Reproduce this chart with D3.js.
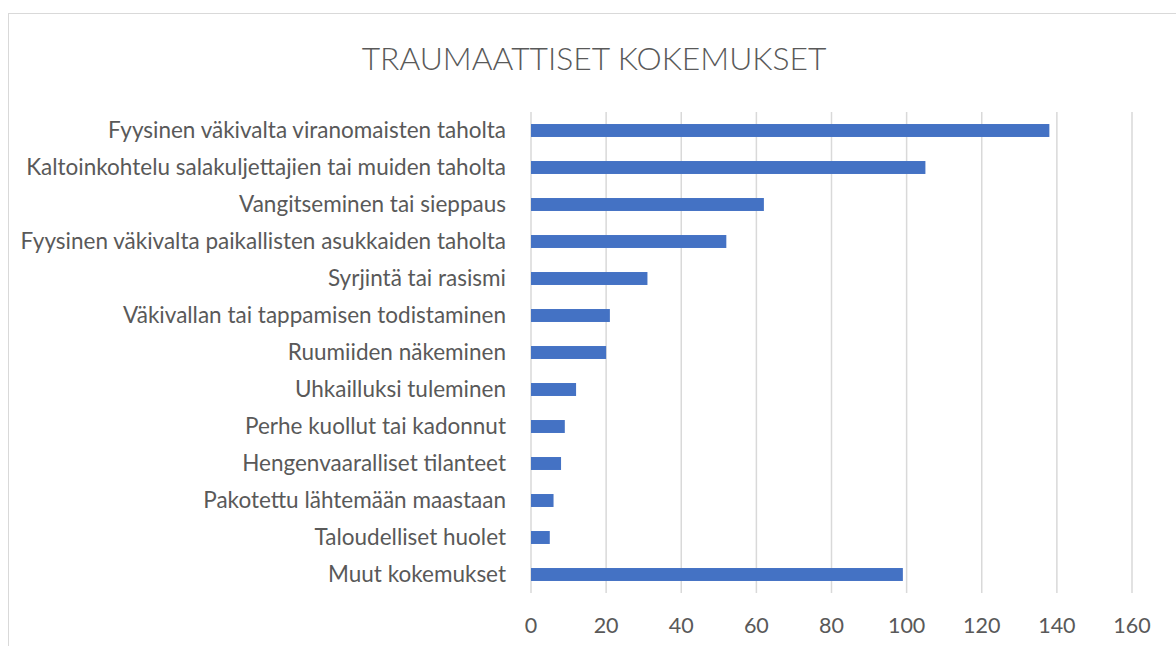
<!DOCTYPE html>
<html>
<head>
<meta charset="utf-8">
<script src="https://cdn.jsdelivr.net/npm/d3@7"></script>
<style>
  body { margin: 0; background: #fff; }
  text { font-family: Lato, "Open Sans", sans-serif; fill: #595959; }
</style>
</head>
<body>
<svg id="chart"></svg>
<script>
const categories = [
  "Fyysinen väkivalta viranomaisten taholta",
  "Kaltoinkohtelu salakuljettajien tai muiden taholta",
  "Vangitseminen tai sieppaus",
  "Fyysinen väkivalta paikallisten asukkaiden taholta",
  "Syrjintä tai rasismi",
  "Väkivallan tai tappamisen todistaminen",
  "Ruumiiden näkeminen",
  "Uhkailluksi tuleminen",
  "Perhe kuollut tai kadonnut",
  "Hengenvaaralliset tilanteet",
  "Pakotettu lähtemään maastaan",
  "Taloudelliset huolet",
  "Muut kokemukset"
];
const values = [138, 105, 62, 52, 31, 21, 20, 12, 9, 8, 6, 5, 99];
const ticks = [0, 20, 40, 60, 80, 100, 120, 140, 160];
const title = "TRAUMAATTISET KOKEMUKSET";

const w = 1176;
const h = 646;
const plotL = 531, plotR = 1132, plotT = 112, plotB = 593;

const svg = d3.select("#chart")
              .attr("width", w)
              .attr("height", h);

// chart frame
svg.append("rect")
   .attr("x", 8.5)
   .attr("y", 13.5)
   .attr("width", 1300)
   .attr("height", 800)
   .attr("fill", "white")
   .attr("stroke", "#d9d9d9")
   .attr("stroke-width", 1);

const x = d3.scaleLinear()
            .domain([0, 160])
            .range([plotL, plotR]);

const y = d3.scaleBand()
            .domain(categories)
            .range([plotT, plotB])
            .paddingInner(0.65)
            .paddingOuter(0.325);

// gridlines
svg.append("g")
   .selectAll("line")
   .data(ticks)
   .enter()
   .append("line")
   .attr("x1", d => x(d))
   .attr("x2", d => x(d))
   .attr("y1", plotT)
   .attr("y2", plotB)
   .attr("stroke", "#d9d9d9")
   .attr("stroke-width", 1.5);

// bars
svg.append("g")
   .selectAll("rect")
   .data(values)
   .enter()
   .append("rect")
   .attr("x", x(0))
   .attr("y", (d, i) => y(categories[i]))
   .attr("width", d => x(d) - x(0))
   .attr("height", y.bandwidth())
   .attr("fill", "#4472c4");

// x tick labels
svg.append("g")
   .selectAll("text")
   .data(ticks)
   .enter()
   .append("text")
   .attr("x", d => x(d))
   .attr("y", 633)
   .attr("text-anchor", "middle")
   .style("font-size", "21.5px")
   .text(d => d);

// category labels
svg.append("g")
   .selectAll("text")
   .data(categories)
   .enter()
   .append("text")
   .attr("x", 506)
   .attr("y", d => y(d) + y.bandwidth() / 2)
   .attr("dy", "0.35em")
   .attr("text-anchor", "end")
   .style("font-size", "22.5px")
   .text(d => d);

svg.append("text")
   .attr("x", 594)
   .attr("y", 70)
   .attr("text-anchor", "middle")
   .style("font-size", "31.8px")
   .style("font-weight", 300)
   .text(title);
</script>
</body>
</html>
